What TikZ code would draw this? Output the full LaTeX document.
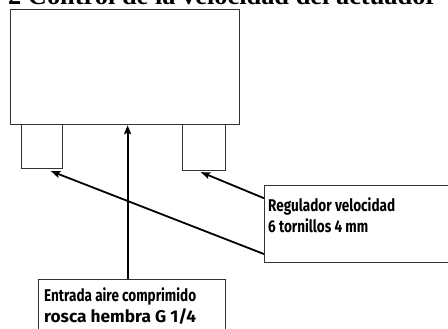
\documentclass[tikz,border=0pt]{standalone}
\usepackage{fontspec}
\usepackage{graphicx}
\setmainfont{Liberation Serif}
\newfontfamily\labfont{Fira Sans}
\usetikzlibrary{arrows.meta,calc}
\definecolor{edge}{HTML}{333333}
\newcommand{\fitw}[2]{\resizebox{#1}{\height}{#2}}
\tikzset{
  box/.style={draw=edge, line width=1.2pt, fill=white, inner sep=0pt, anchor=north west},
  arr/.style={draw=black, line width=1.8pt, -{Stealth[length=9pt,width=7pt,inset=1.5pt]}},
  lab/.style={anchor=base west, inner sep=0pt, font=\labfont\bfseries\fontsize{17}{22}\selectfont},
  ttl/.style={anchor=base west, inner sep=0pt, font=\bfseries\fontsize{26}{30}\selectfont}
}
\begin{document}
\begin{tikzpicture}[x=1pt,y=-1pt]
\useasboundingbox (0,0) rectangle (448,329);
\clip (0,0) rectangle (448,329);
\fill[white] (0,0) rectangle (448,329);
\node[ttl] (title) at (8,5) {\fitw{429pt}{2 Control de la velocidad del actuador}};
\node[box, minimum width=229pt, minimum height=115pt] (main) at (10,9) {};
\node[box, minimum width=41pt, minimum height=44pt] (lport) at (21,124) {};
\node[box, minimum width=43pt, minimum height=46pt] (rport) at (182,124) {};
\node[box, minimum width=200pt, minimum height=77pt] (regbox) at (264,185) {};
\node[box, minimum width=187pt, minimum height=80pt] (entbox) at (38,279) {};
\node[lab] (reg1) at (268,211.5) {\fitw{127pt}{Regulador velocidad}};
\node[lab] (reg2) at (268,233) {\fitw{100pt}{6 tornillos 4 mm}};
\node[lab] (ent1) at (44,301.5) {\fitw{152pt}{Entrada aire comprimido}};
\node[lab] (ent2) at (44,323) {\fitw{152pt}{rosca hembra G 1/4}};
\draw[arr] ($(regbox.north west)!0.883!(regbox.south west)$) -- ($(lport.south)+(9,2)$);
\draw[arr] ($(regbox.north west)!0.169!(regbox.south west)$) -- ($(rport.south)+(-3,1)$);
\draw[arr] ([xshift=-4.5pt]entbox.north) -- ([xshift=-4.5pt]entbox.north |- main.south);
\end{tikzpicture}
\end{document}
